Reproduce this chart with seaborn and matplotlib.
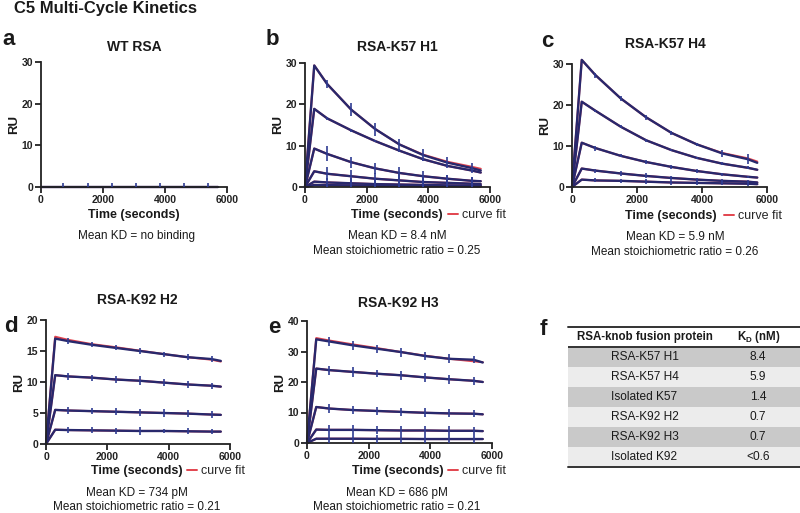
import matplotlib
matplotlib.use("Agg")
import matplotlib.pyplot as plt
import seaborn as sns
import pandas as pd
from matplotlib.lines import Line2D

# ---------------- data ----------------
time_s = [0, 300, 720, 1500, 2280, 3060, 3840, 4620, 5400, 5700]
bar_idx = [2, 3, 4, 5, 6, 7, 8]          # samples carrying error bars

a_curves = [[0, 0, 0, 0, 0, 0, 0, 0, 0, 0]]
a_err = [[0.9, 0.9, 0.9, 0.9, 0.9, 0.9, 0.9]]
a_fit = [[0, 0, 0, 0, 0, 0, 0, 0, 0, 0]]

b_curves = [
    [0, 29.4, 24.9, 18.7, 14.0, 10.3, 7.7, 5.9, 4.6, 4.0],
    [0, 18.9, 16.6, 13.7, 11.1, 8.8, 6.7, 5.1, 4.0, 3.5],
    [0, 9.3, 8.0, 6.0, 4.5, 3.4, 2.6, 2.0, 1.5, 1.4],
    [0, 3.8, 3.2, 2.6, 2.0, 1.6, 1.2, 1.0, 0.8, 0.7],
    [0, 1.3, 1.1, 0.9, 0.7, 0.6, 0.5, 0.4, 0.35, 0.3],
    [0, 0.5, 0.45, 0.4, 0.3, 0.25, 0.2, 0.2, 0.15, 0.15],
]
b_err = [
    [1.0, 1.6, 1.6, 1.4, 1.4, 1.4, 1.2],
    [0.3, 0.3, 0.3, 0.3, 0.3, 0.3, 0.3],
    [1.8, 1.3, 1.3, 1.5, 1.2, 1.0, 0.8],
    [1.6, 1.6, 1.5, 1.6, 1.5, 1.4, 1.3],
    [1.0, 1.2, 1.2, 1.2, 1.3, 2.5, 2.0],
    [0.5, 0.5, 0.5, 0.5, 0.5, 0.5, 0.5],
]
b_fit = [
    [0, 29.4, 24.9, 18.7, 14.0, 10.3, 7.8, 6.1, 4.9, 4.4],
]

c_curves = [
    [0, 31.0, 27.3, 21.6, 17.0, 13.2, 10.4, 8.2, 6.8, 5.9],
    [0, 20.8, 18.6, 14.7, 11.4, 9.0, 7.1, 5.7, 4.7, 4.2],
    [0, 10.8, 9.5, 7.6, 6.1, 4.9, 3.9, 3.1, 2.5, 2.3],
    [0, 4.5, 4.0, 3.3, 2.7, 2.2, 1.8, 1.5, 1.3, 1.1],
    [0, 1.8, 1.6, 1.5, 1.3, 1.1, 1.0, 0.9, 0.8, 0.7],
]
c_err = [
    [0.6, 0.6, 0.6, 0.5, 0.4, 0.8, 1.3],
    [0.3, 0.3, 0.4, 0.3, 0.3, 0.4, 0.3],
    [0.6, 0.4, 0.5, 0.4, 0.4, 0.3, 0.3],
    [0.5, 0.5, 0.6, 0.5, 0.5, 0.5, 0.5],
    [0.5, 0.5, 0.6, 0.6, 0.5, 0.5, 0.5],
]
c_fit = [
    [0, 31.0, 27.3, 21.6, 17.0, 13.2, 10.4, 8.3, 7.0, 6.2],
]

d_curves = [
    [0, 17.0, 16.6, 16.0, 15.5, 15.0, 14.5, 14.0, 13.7, 13.4],
    [0, 11.1, 10.9, 10.7, 10.4, 10.2, 9.9, 9.6, 9.4, 9.25],
    [0, 5.5, 5.4, 5.3, 5.2, 5.1, 5.0, 4.9, 4.75, 4.7],
    [0, 2.3, 2.25, 2.2, 2.15, 2.1, 2.1, 2.05, 2.0, 2.0],
]
d_err = [
    [0.5, 0.4, 0.4, 0.5, 0.4, 0.5, 0.5],
    [0.6, 0.5, 0.5, 0.7, 0.6, 0.5, 0.5],
    [0.6, 0.5, 0.6, 0.6, 0.6, 0.6, 0.5],
    [0.5, 0.5, 0.5, 0.6, 0.4, 0.5, 0.4],
]
d_fit = [
    [0, 17.3, 16.8, 16.1, 15.6, 15.05, 14.5, 14.0, 13.6, 13.3],
]

e_curves = [
    [0, 34.0, 33.3, 32.0, 30.9, 29.8, 28.5, 27.6, 27.3, 26.4],
    [0, 24.4, 23.9, 23.3, 22.7, 22.2, 21.5, 20.9, 20.4, 20.0],
    [0, 11.8, 11.3, 10.8, 10.5, 10.2, 9.9, 9.7, 9.6, 9.4],
    [0, 4.4, 4.3, 4.3, 4.2, 4.1, 4.1, 4.0, 4.0, 3.9],
    [0, 1.4, 1.4, 1.4, 1.35, 1.35, 1.3, 1.3, 1.3, 1.3],
]
e_err = [
    [1.5, 1.5, 1.3, 1.5, 1.3, 1.5, 1.2],
    [1.5, 1.5, 1.2, 1.4, 1.5, 1.4, 1.3],
    [1.5, 1.3, 1.4, 1.4, 1.5, 1.3, 1.2],
    [1.5, 1.5, 1.4, 1.5, 1.4, 1.5, 1.3],
    [1.4, 1.4, 1.4, 1.4, 1.4, 1.3, 1.3],
]
e_fit = [
    [0, 34.4, 33.6, 32.3, 31.1, 29.8, 28.6, 27.6, 26.8, 26.5],
]

x_ticks = [0, 2000, 4000, 6000]
table_proteins = ["RSA-K57 H1", "RSA-K57 H4", "Isolated K57",
                  "RSA-K92 H2", "RSA-K92 H3", "Isolated K92"]
table_kd = ["8.4", "5.9", "1.4", "0.7", "0.7", "<0.6"]

# ---------------- style ----------------
sns.set_theme(style="ticks")
plt.rcParams["font.family"] = ["Liberation Sans", "DejaVu Sans"]
plt.rcParams["mathtext.fontset"] = "custom"
plt.rcParams["mathtext.rm"] = "Liberation Sans"
plt.rcParams["mathtext.bf"] = "Liberation Sans:bold"

NAVY = "#28286c"
BAR = "#2f3c92"
RED = "#e2444e"
TXT = "#1a1a1a"

W, H = 800, 513
fig = plt.figure(figsize=(W / 100, H / 100), dpi=100)


def add_ax(x0, x1, ytop, ybot):
    return fig.add_axes([x0 / W, 1 - ybot / H, (x1 - x0) / W, (ybot - ytop) / H])


def ftext(x, y, s, **kw):
    kw.setdefault("color", TXT)
    fig.text(x / W, 1 - y / H, s, **kw)


def long_df(curves):
    rows = []
    for ci, c in enumerate(curves):
        for t, v in zip(time_s, c):
            rows.append({"time": t, "RU": v, "curve": ci})
    return pd.DataFrame(rows)


def kinetics_panel(box, curves, errs, fits, ymax, ystep):
    ax = add_ax(*box)
    fit_curves = fits + curves[len(fits):]
    sns.lineplot(data=long_df(fit_curves), x="time", y="RU", units="curve",
                 estimator=None, sort=False, color=RED, lw=1.5, ax=ax, legend=False)
    sns.lineplot(data=long_df(curves), x="time", y="RU", units="curve",
                 estimator=None, sort=False, color=NAVY, lw=1.7, ax=ax, legend=False)
    for ln in ax.get_lines():
        ln.set_clip_on(False)
    bt = [time_s[i] for i in bar_idx]
    for c, e in zip(curves, errs):
        ax.errorbar(bt, [c[i] for i in bar_idx], yerr=e, fmt="none",
                    ecolor=BAR, elinewidth=1.2, capsize=0, zorder=3)
    ax.set_xlim(0, 6000)
    ax.set_ylim(0, ymax)
    ax.set_xticks(x_ticks)
    ax.set_yticks(list(range(0, ymax + 1, ystep)))
    ax.set_xlabel("")
    ax.set_ylabel("RU", fontsize=9.5, fontweight="bold", labelpad=1, color=TXT)
    for s in ["top", "right"]:
        ax.spines[s].set_visible(False)
    for s in ["left", "bottom"]:
        ax.spines[s].set_linewidth(1.3)
        ax.spines[s].set_color("#222222")
    ax.tick_params(direction="out", length=4, width=1.3, labelsize=7.5,
                   pad=1.5, colors="#222222")
    for lab in ax.get_xticklabels() + ax.get_yticklabels():
        lab.set_fontweight("bold")
    ax.patch.set_alpha(0)
    return ax


def legend_at(x, y):
    h = [Line2D([], [], color=RED, lw=1.4)]
    fig.legend(h, ["curve fit"], loc="center left",
               bbox_to_anchor=(x / W, 1 - y / H), frameon=False,
               handlelength=0.8, handletextpad=0.35, borderaxespad=0,
               borderpad=0, fontsize=9)


# ---------------- title ----------------
ftext(14, 9, "C5 Multi-Cycle Kinetics", fontsize=12, fontweight="bold", va="center")

# ---------------- panel a ----------------
kinetics_panel((41, 227, 62, 187), a_curves, a_err, a_fit, 30, 10)
ftext(2, 45, "a", fontsize=16, fontweight="bold", va="baseline")
ftext(134, 47, "WT RSA", fontsize=10, fontweight="bold", ha="center", va="center")
ftext(134, 215, "Time (seconds)", fontsize=9, fontweight="bold", ha="center", va="center")
ftext(136, 236, "Mean KD = no binding", fontsize=8.5, ha="center", va="center")

# ---------------- panel b ----------------
kinetics_panel((305, 490, 63, 187), b_curves, b_err, b_fit, 30, 10)
ftext(266, 45, "b", fontsize=16, fontweight="bold", va="baseline")
ftext(397, 47, "RSA-K57 H1", fontsize=10, fontweight="bold", ha="center", va="center")
ftext(397, 215, "Time (seconds)", fontsize=9, fontweight="bold", ha="center", va="center")
legend_at(448, 215)
ftext(397, 236, "Mean KD = 8.4 nM", fontsize=8.5, ha="center", va="center")
ftext(397, 251, "Mean stoichiometric ratio = 0.25", fontsize=8.5, ha="center", va="center")

# ---------------- panel c ----------------
kinetics_panel((572, 767, 64, 187), c_curves, c_err, c_fit, 30, 10)
ftext(541, 47, "c", fontsize=16, fontweight="bold", va="baseline")
ftext(665, 44, "RSA-K57 H4", fontsize=10, fontweight="bold", ha="center", va="center")
ftext(671, 216, "Time (seconds)", fontsize=9, fontweight="bold", ha="center", va="center")
legend_at(724, 216)
ftext(675, 237, "Mean KD = 5.9 nM", fontsize=8.5, ha="center", va="center")
ftext(675, 252, "Mean stoichiometric ratio = 0.26", fontsize=8.5, ha="center", va="center")

# ---------------- panel d ----------------
kinetics_panel((46, 230, 320, 444), d_curves, d_err, d_fit, 20, 5)
ftext(4, 332, "d", fontsize=16, fontweight="bold", va="baseline")
ftext(137, 300, "RSA-K92 H2", fontsize=10, fontweight="bold", ha="center", va="center")
ftext(137, 471, "Time (seconds)", fontsize=9, fontweight="bold", ha="center", va="center")
legend_at(187, 471)
ftext(137, 493, "Mean KD = 734 pM", fontsize=8.5, ha="center", va="center")
ftext(137, 507, "Mean stoichiometric ratio = 0.21", fontsize=8.5, ha="center", va="center")

# ---------------- panel e ----------------
kinetics_panel((307, 492, 321, 443), e_curves, e_err, e_fit, 40, 10)
ftext(268, 333, "e", fontsize=16, fontweight="bold", va="baseline")
ftext(398, 303, "RSA-K92 H3", fontsize=10, fontweight="bold", ha="center", va="center")
ftext(398, 471, "Time (seconds)", fontsize=9, fontweight="bold", ha="center", va="center")
legend_at(448, 471)
ftext(397, 493, "Mean KD = 686 pM", fontsize=8.5, ha="center", va="center")
ftext(397, 507, "Mean stoichiometric ratio = 0.21", fontsize=8.5, ha="center", va="center")

# ---------------- panel f (table) ----------------
ftext(540, 335, "f", fontsize=16, fontweight="bold", va="baseline")
tax = add_ax(568, 800, 327, 467)
n = len(table_proteins)
tax.set_xlim(0, 1)
tax.set_ylim(n + 1, 0)
tax.axis("off")
for i in range(n):
    col = "#c9c9c9" if i % 2 == 0 else "#ececec"
    tax.axhspan(i + 1, i + 2, color=col, lw=0)
tax.axhline(0, color="#333333", lw=1.4, clip_on=False)
tax.axhline(1, color="#333333", lw=1.4)
tax.axhline(n + 1, color="#333333", lw=1.4, clip_on=False)
tax.text(0.33, 0.52, "RSA-knob fusion protein", ha="center", va="center",
         fontsize=8.3, fontweight="bold", color=TXT)
tax.text(0.82, 0.52, r"K$_{\mathbf{D}}$ (nM)", ha="center", va="center",
         fontsize=8.3, fontweight="bold", color=TXT)
for i, (p, k) in enumerate(zip(table_proteins, table_kd)):
    tax.text(0.33, i + 1.52, p, ha="center", va="center", fontsize=8.6, color=TXT)
    tax.text(0.82, i + 1.52, k, ha="center", va="center", fontsize=8.6, color=TXT)

fig.savefig("out.png", dpi=100)
